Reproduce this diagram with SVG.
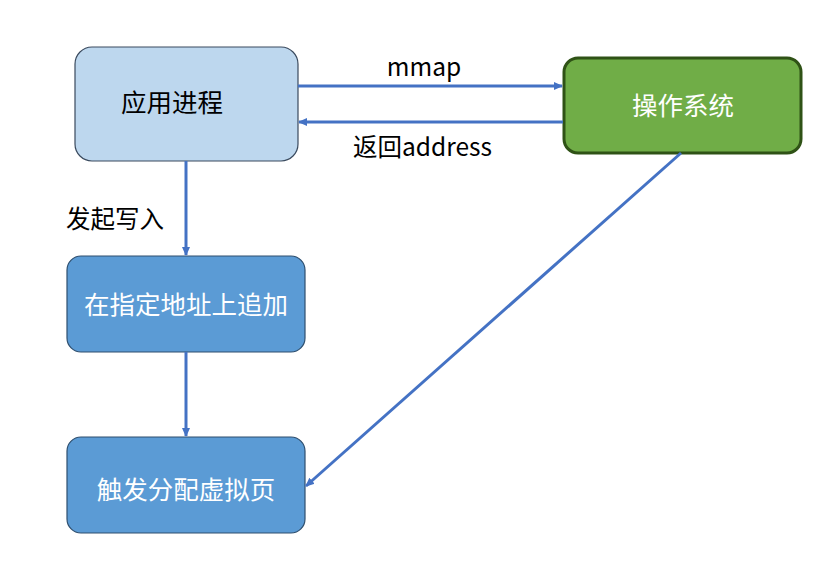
<svg xmlns="http://www.w3.org/2000/svg" width="830" height="567" viewBox="0 0 830 567">
<defs>
<marker id="ah" markerWidth="10" markerHeight="10" refX="8" refY="5" orient="auto" markerUnits="userSpaceOnUse">
<path d="M0,1 L9,5 L0,9 z" fill="#4472C4"/>
</marker>
<style>
.t{font-family:"Noto Sans CJK SC","Noto Sans",sans-serif;font-size:25.5px;text-anchor:middle;dominant-baseline:central}
.w{fill:#ffffff}
.k{fill:#000000}
.l{font-family:"Noto Sans CJK SC","Noto Sans",sans-serif;font-size:24.5px;fill:#000000}
.c{stroke:#4472C4;stroke-width:3;fill:none;marker-end:url(#ah)}
</style>
</defs>
<rect width="830" height="567" fill="#ffffff"/>
<g id="n1">
<rect x="75" y="47" width="223" height="114" rx="17" fill="#BDD7EE" stroke="#3A4A5E" stroke-width="1.2"/>
<text class="t k" x="172" y="100">应用进程</text>
</g>
<g id="n2">
<rect x="564" y="58" width="237" height="95" rx="14" fill="#70AD47" stroke="#2F5216" stroke-width="3"/>
<text class="t w" x="683" y="103">操作系统</text>
</g>
<g id="n3">
<rect x="67" y="256" width="238" height="96" rx="14" fill="#5B9BD5" stroke="#2F4F6E" stroke-width="1.2"/>
<text class="t w" x="186" y="302">在指定地址上追加</text>
</g>
<g id="n4">
<rect x="67" y="437" width="238" height="96" rx="14" fill="#5B9BD5" stroke="#2F4F6E" stroke-width="1.2"/>
<text class="t w" x="186" y="487">触发分配虚拟页</text>
</g>
<g id="connectors">
<line class="c" x1="298" y1="86" x2="562" y2="86"/>
<line class="c" x1="563" y1="122" x2="299" y2="122"/>
<line class="c" x1="186" y1="161" x2="186" y2="255"/>
<line class="c" x1="186" y1="352" x2="186" y2="436"/>
<line class="c" x1="681" y1="153" x2="306" y2="486"/>
<text class="l" x="424" y="76" text-anchor="middle">mmap</text>
<text class="l" x="353" y="156">返回address</text>
<text class="l" x="66" y="228">发起写入</text>
</g>
</svg>
